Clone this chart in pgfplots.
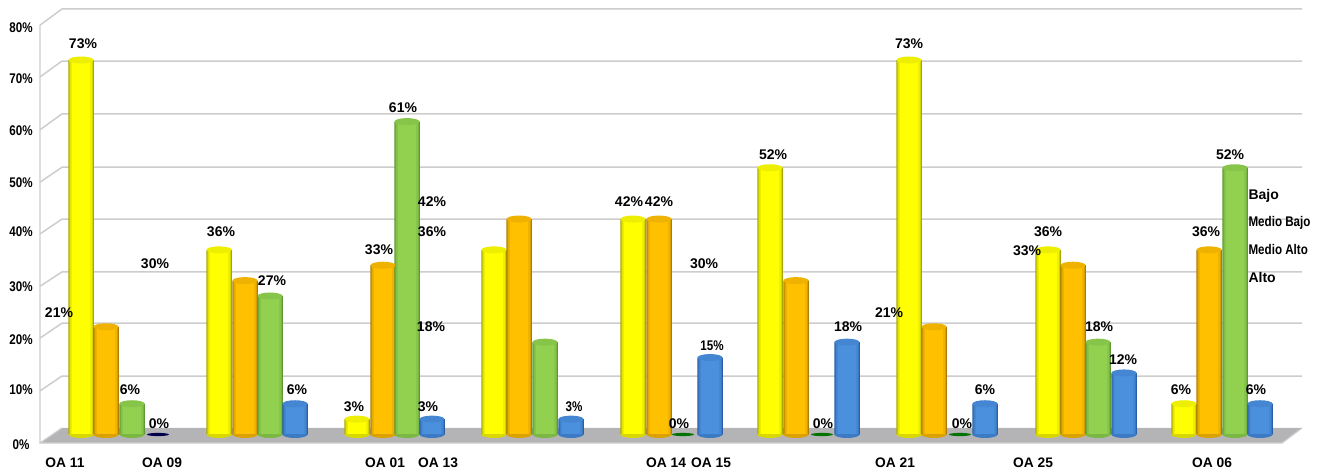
\documentclass[border=0pt]{standalone}
\usepackage{pgfplots}
\usepackage{pgfplotstable}
\pgfplotsset{compat=1.18}
\usepackage{fontspec}
\setmainfont{Liberation Sans}
\newfontfamily\narrowb[FakeStretch=0.83]{Liberation Sans Bold}
\definecolor{gridc}{HTML}{CDCDCD}
\definecolor{floorc}{HTML}{B4B4B6}
\definecolor{yel}{HTML}{FFFF00}\definecolor{yeld}{HTML}{A8A800}
\definecolor{ora}{HTML}{FFC000}\definecolor{orad}{HTML}{B07C00}
\definecolor{gre}{HTML}{92D050}\definecolor{gred}{HTML}{5C9A33}
\definecolor{blu}{HTML}{4A90DC}\definecolor{blud}{HTML}{2A5FA5}
\pgfdeclareplotmark{cyl}{\pgfpathellipse{\pgfpointorigin}{\pgfqpoint{12.5pt}{0pt}}{\pgfqpoint{0pt}{3.5pt}}\pgfusepathqfill}
\pgfdeclareplotmark{cylb}{\pgfpathmoveto{\pgfqpoint{-12.5pt}{0.5pt}}\pgfpathlineto{\pgfqpoint{-12.5pt}{0pt}}\pgfpatharc{180}{360}{12.5pt and 3.5pt}\pgfpathlineto{\pgfqpoint{12.5pt}{0.5pt}}\pgfpathclose\pgfusepathqfill}
\pgfdeclareplotmark{flat}{\pgfpathellipse{\pgfpointorigin}{\pgfqpoint{11pt}{0pt}}{\pgfqpoint{0pt}{1.6pt}}\pgfusepathqfill}
\newcommand\gl[2]{\addplot[gridc, line width=1.5pt] coordinates {(40,#1)(62,#2)(1302,#2)};}
\newcommand\cyl[3]{%
  \addplot[only marks, mark=cylb, mark options={fill=#3!55!#2, draw=none}] table[x=x,y expr=0] {#1};
  \addplot[ybar, bar shift=0pt, bar width=25.5pt, draw=none, fill=#2] table[x=x,y=v] {#1};
  \addplot[ybar, bar shift=0pt, bar width=23.5pt, draw=none, fill=#3!50!#2] table[x=x,y=v] {#1};
  \addplot[ybar, bar shift=0pt, bar width=21.5pt, draw=none, fill=#3!80!#2] table[x=x,y=v] {#1};
  \addplot[ybar, bar shift=0pt, bar width=18pt, draw=none, fill=#3] table[x=x,y=v] {#1};
  \addplot[only marks, mark=cyl, mark options={fill=#3!80!#2, draw=none}] table[x=x,y=v] {#1};
}
\pgfplotstableread{
x v
81 73
219 36
357 3
494 36
633 42
770 52
909 73
1048 36
1184 6
}\tblY
\pgfplotstableread{
x v
106 21
245 30
383 33
519 42
659 42
796 30
934 21
1073 33
1209 36
}\tblO
\pgfplotstableread{
x v
132 6
270 27
407 61
545 18
1098 18
1235 52
}\tblG
\pgfplotstableread{
x v
295 6
432 3
571 3
710 15
847 18
985 6
1124 12
1260 6
}\tblB
\pgfplotstableread{
x v
158 0
}\tblZ
\pgfplotstableread{
x v
683 0
822 0
960 0
}\tblZg
\pgfplotstableread{
x v t
83 76.1 73\%
59 23.7 21\%
130 8.7 6\%
159 2.05 0\%
155 33.2 30\%
221 39.5 36\%
272 29.9 27\%
297 8.7 6\%
354 5.4 3\%
379 36 33\%
403 63.8 61\%
432 45.3 42\%
432 39.5 36\%
431 21 18\%
428 5.4 3\%
629 45.3 42\%
659 45.3 42\%
704 33.2 30\%
679 2.05 0\%
773 54.5 52\%
823 2.05 0\%
848 21 18\%
909 76.1 73\%
889 23.7 21\%
962 2.05 0\%
985 8.7 6\%
1048 39.5 36\%
1027 35.8 33\%
1099 21 18\%
1123 14.5 12\%
1181 8.7 6\%
1206 39.5 36\%
1230 54.5 52\%
1256 8.7 6\%
}\tblL
\pgfplotstableread{
x v t
21 -2.05 0\%
21 8.7 10\%
21 18.4 20\%
21 28.8 30\%
21 39.5 40\%
21 49 50\%
21 59.2 60\%
21 69.3 70\%
21 79.4 80\%
574 5.4 3\%
712 17.4 15\%
}\tblS
\pgfplotstableread{
x v t
65 -5.56 {OA 11}
162 -5.56 {OA 09}
385 -5.56 {OA 01}
438 -5.56 {OA 13}
666 -5.56 {OA 14}
711 -5.56 {OA 15}
895 -5.56 {OA 21}
1033 -5.56 {OA 25}
1212 -5.56 {OA 06}
}\tblC
\pgfplotstableread{
x v t
1245 46.5 Bajo
1245 30.7 Alto
}\tblK
\pgfplotstableread{
x v t
1245 41.2 {Medio Bajo}
1245 36 {Medio Alto}
}\tblM
\begin{document}
\begin{tikzpicture}
\begin{axis}[
  scale only axis, width=1324pt, height=474pt,
  xmin=0, xmax=1324, ymin=-7.70, ymax=84.70,
  axis lines=none, clip=false,
]
\path (axis cs:0,-7.70) rectangle (axis cs:1324,84.70);
% floor
\addplot[draw=none, fill=floorc] coordinates {(40,-1.66)(62,1.27)(1302,1.27)(1282,-1.66)} --cycle;
% back grid
\gl{8.5}{11.4}
\gl{18.8}{21.7}
\gl{28.9}{31.7}
\gl{39.1}{42.0}
\gl{49.2}{52.1}
\gl{59.4}{62.5}
\gl{69.7}{72.8}
\gl{79.8}{82.96}
\addplot[gridc, line width=1.2pt] coordinates {(62,1.27)(40,-1.66)(40,79.8)};
\addplot[gridc, line width=1.2pt] coordinates {(40,-1.66)(1282,-1.66)(1302,1.27)};
% zero bars
\addplot[only marks, mark=flat, mark options={fill=black!70!blue, draw=none}] table[x=x,y=v] {\tblZ};
\addplot[only marks, mark=flat, mark options={fill=black!55!green, draw=none}] table[x=x,y=v] {\tblZg};
% cylinders
\cyl{\tblY}{yeld}{yel}
\cyl{\tblO}{orad}{ora}
\cyl{\tblG}{gred}{gre}
\cyl{\tblB}{blud}{blu}
% labels
\addplot[only marks, mark=none, nodes near coords, point meta=explicit symbolic,
  every node near coord/.style={anchor=center, font=\bfseries\fontsize{14}{16}\selectfont, text=black}]
  table[x=x,y=v,meta=t] {\tblL};
\addplot[only marks, mark=none, nodes near coords, point meta=explicit symbolic,
  every node near coord/.style={anchor=center, font=\narrowb\fontsize{14}{16}\selectfont, text=black}]
  table[x=x,y=v,meta=t] {\tblS};
\addplot[only marks, mark=none, nodes near coords, point meta=explicit symbolic,
  every node near coord/.style={anchor=center, font=\bfseries\fontsize{13.8}{16}\selectfont, text=black}]
  table[x=x,y=v,meta=t] {\tblC};
\addplot[only marks, mark=none, nodes near coords, point meta=explicit symbolic,
  every node near coord/.style={anchor=west, font=\bfseries\fontsize{14}{16}\selectfont, text=black}]
  table[x=x,y=v,meta=t] {\tblK};
\addplot[only marks, mark=none, nodes near coords, point meta=explicit symbolic,
  every node near coord/.style={anchor=west, font=\narrowb\fontsize{14}{16}\selectfont, text=black}]
  table[x=x,y=v,meta=t] {\tblM};
\end{axis}
\end{tikzpicture}
\end{document}
